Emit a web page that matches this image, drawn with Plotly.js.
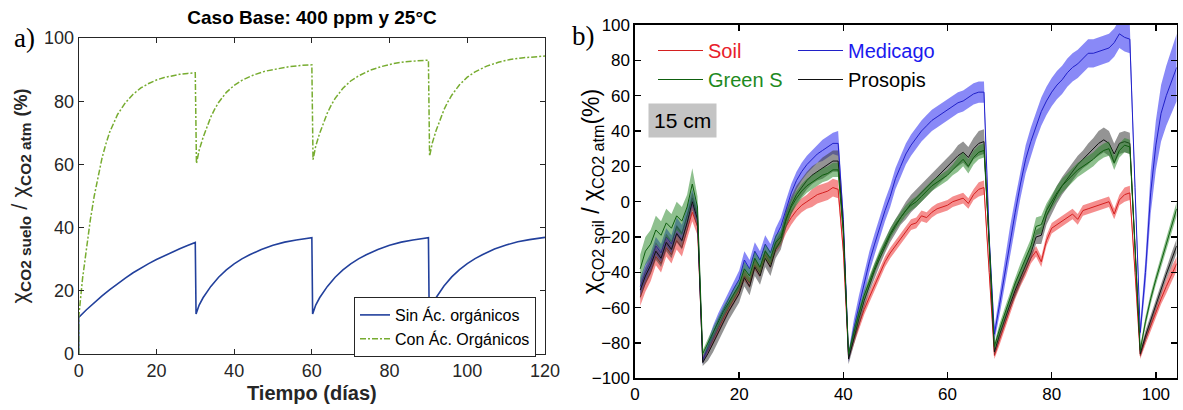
<!DOCTYPE html>
<html><head><meta charset="utf-8">
<script src="https://cdn.plot.ly/plotly-3.0.1.min.js"></script>
<style>html,body{margin:0;padding:0;background:#fff}#chart{width:1183px;height:410px}</style>
</head><body><div id="chart"></div><script>
// ---------- Panel a) model curves ----------
var sinT = [0,0,2,4,6,8,10,12,14,16,18,20,22,24,26,28,30,
  30.2,31,32,33,34,36,38,40,42,44,47,50,53,56,60,
  60.2,61,62,63,64,66,68,70,72,74,77,80,83,86,90,
  90.2,91,92,93,94,96,98,100,102,104,107,110,113,116,120];
var sinV = [0,11.6,14.0,16.3,18.4,20.4,22.3,24.0,25.7,27.2,28.6,29.9,31.1,32.2,33.3,34.3,35.3,
  12.7,15.5,17.8,19.7,21.4,24.3,26.6,28.5,30.1,31.4,33.1,34.4,35.4,36.1,36.8,
  12.7,15.5,17.8,19.7,21.4,24.3,26.6,28.5,30.1,31.4,33.1,34.4,35.4,36.1,36.8,
  12.8,15.6,17.9,19.8,21.5,24.4,26.7,28.6,30.2,31.5,33.2,34.5,35.5,36.2,36.9];
var conT = [0,0,1,2,3,4,5,6,7,8,10,12,14,16,18,20,22,24,26,28,30,
  30.3,31,32,33,34,35,36,38,40,42,45,48,51,54,57,60,
  60.3,61,62,63,64,65,66,68,70,72,75,78,81,84,87,90,
  90.3,91,92,93,94,95,96,98,100,102,105,108,111,114,117,120];
var conV = [0,11.6,24,34,42.5,50,56.5,62,66.5,70.3,75.8,79.5,82.2,84.2,85.6,86.7,87.5,88.1,88.5,88.8,89.0,
  60.3,64.5,68.5,72,75,77.5,79.6,82.8,85,86.6,88.3,89.5,90.3,90.9,91.3,91.5,
  61.5,65.8,69.8,73.3,76.3,78.8,80.9,84.1,86.4,88,89.8,91,91.9,92.5,92.8,93.0,
  62.6,66.8,70.8,74.3,77.3,79.8,81.9,85.2,87.6,89.3,91.1,92.3,93.2,93.7,94.1,94.3];
var namesA = ['Sin Ác. orgánicos','Con Ác. Orgánicos'];
var ticksA_x = [0,20,40,60,80,100,120];
var ticksA_y = [0,20,40,60,80,100];

// ---------- Panel b) measured series ----------
var days = [1,2,3,4,5,6,7,8,9,10,11,12,13,14,15,16,17,18,19,20,21,22,23,24,25,26,27,28,29,30,
  31,32,33,34,35,36,37,38,39,40,41,42,43,44,45,46,47,48,49,50,51,52,53,54,55,56,57,58,59,60,
  61,62,63,64,65,66,67,68,69,70,71,72,73,74,75,76,77,78,79,80,81,82,83,84,85,86,87,88,89,90,
  91,92,93,94,95,96,97,98,99,100,101,102,103,104];
var soil = [-54,-46,-40,-31,-35,-26,-30,-22,-26,-16,-6,-14,
  -89,-84,-78,-72,-66,-60,-55,-50,-42,-46,-36,-40,-30,-35,-26,-22,-14,-9,-5,-2,0,2,4,5,6,8,7,-28,
  -88,-78,-69,-61,-54,-47,-40,-34,-29,-25,-21,-17,-13,-12,-8,-9,-6,-4,-3,-2,0,1,2,-1,4,7,8,-40,
  -87,-78,-69,-60,-52,-45,-39,-32,-28,-34,-22,-15,-13,-11,-9,-7,-10,-5,-4,-3,-2,-1,0,-7,1,4,5,-40,
  -87,-78,-70,-62,-55,-48,-41,-35];
var soilErr = [5,5,5,5,5,5,5,5,5,5,5,5,
  2,2,3,3,3,3,3,3,3,3,3,3,3,3,3,3,4,4,4,4,4,5,5,5,5,5,5,3,
  2,3,3,3,3,3,3,3,3,3,3,3,3,3,3,3,3,3,3,3,3,3,3,3,3,4,4,3,
  2,3,3,3,3,3,3,3,3,3,3,3,3,3,3,3,3,3,3,3,3,3,3,3,3,4,4,3,
  2,3,3,3,3,4,4,4];
var medicago = [-48,-40,-34,-25,-29,-20,-24,-14,-18,-8,2,-8,
  -90,-82,-74,-67,-61,-55,-49,-44,-33,-38,-28,-33,-24,-29,-20,-14,-4,5,12,17,21,24,27,29,31,33,33,-10,
  -88,-72,-59,-47,-34,-24,-14,-5,3,13,20,27,32,36,40,43,46,48,50,52,54,56,57,59,61,62,62,-20,
  -75,-58,-40,-22,-6,10,24,34,43,51,57,62,66,69,73,76,78,81,84,84,85,86,87,90,95,93,92,8,
  -74,-40,5,32,50,60,68,76];
var medicagoErr = [5,5,5,5,5,5,5,5,5,5,5,5,
  2,3,4,4,4,4,4,5,5,5,5,5,5,5,5,5,5,5,5,5,5,5,5,6,6,6,7,4,
  3,5,6,6,6,6,6,6,6,6,6,6,6,6,6,6,6,6,6,6,6,6,6,6,6,6,6,4,
  4,6,7,8,8,8,8,8,8,8,8,8,8,8,8,8,8,8,8,8,8,8,8,8,8,8,8,5,
  4,8,12,14,16,17,18,19];
var greenS = [-38,-28,-24,-16,-19,-12,-15,-8,-11,-3,10,-3,
  -86,-80,-74,-68,-62,-57,-52,-47,-38,-42,-32,-37,-28,-32,-23,-20,-10,-3,2,6,9,11,13,15,16,18,18,-18,
  -86,-74,-63,-53,-45,-37,-30,-24,-18,-13,-9,-5,-2,0,3,6,9,11,13,15,18,21,24,20,25,28,29,-22,
  -82,-72,-63,-54,-46,-39,-32,-25,-14,-13,-5,0,5,9,12,15,18,20,22,24,27,29,30,22,29,32,31,-25,
  -84,-68,-55,-44,-34,-24,-14,-4];
var greenSErr = [8,8,8,8,8,8,8,8,8,7,9,6,
  2,3,3,3,3,3,3,3,4,4,4,4,4,4,4,4,4,4,4,4,4,4,4,4,4,4,4,3,
  2,3,3,3,3,3,3,3,3,3,3,3,3,3,3,3,3,3,3,3,3,4,4,4,4,4,4,3,
  2,3,3,3,3,4,4,4,5,5,4,4,4,4,4,4,4,4,4,4,4,4,4,4,4,4,4,3,
  2,3,3,3,3,3,4,4];
var prosopis = [-50,-42,-36,-28,-32,-23,-27,-18,-22,-12,0,-10,
  -91,-86,-80,-74,-68,-62,-57,-52,-43,-48,-37,-42,-32,-37,-27,-22,-10,-2,4,8,12,15,17,19,21,23,23,-15,
  -89,-77,-66,-56,-47,-39,-32,-25,-19,-14,-9,-5,-1,2,5,8,11,14,17,20,23,26,28,25,30,33,34,-22,
  -85,-75,-66,-58,-50,-43,-36,-29,-20,-19,-8,-2,4,9,13,17,21,24,27,30,33,35,33,27,33,34,33,-25,
  -86,-76,-67,-58,-49,-41,-33,-25];
var prosopisErr = [5,5,5,5,5,5,5,5,5,5,5,5,
  2,4,5,5,5,5,5,5,5,5,5,5,5,5,5,5,5,5,5,5,5,5,5,6,6,6,6,4,
  3,4,4,4,4,4,4,4,4,4,4,5,5,5,5,5,5,5,5,5,5,6,6,6,6,7,7,4,
  2,3,3,3,4,4,4,4,4,5,5,5,5,5,5,5,5,5,6,6,7,7,7,6,6,6,6,4,
  2,3,3,3,3,3,4,4];
var ticksB_x = [0,20,40,60,80,100];
var ticksB_y = [-100,-80,-60,-40,-20,0,20,40,60,80,100];

// ---------- build ----------
var W = 1183, H = 410;
function px(x){ return x / W; }
function py(y){ return 1 - y / H; }
var fL = 'Liberation Sans, Arial, sans-serif';

var problems = [];
[['soil',soil,soilErr],['medicago',medicago,medicagoErr],['greenS',greenS,greenSErr],['prosopis',prosopis,prosopisErr]].forEach(function(s){
  if (s[1].length !== days.length) problems.push(s[0]+' '+s[1].length);
  if (s[2].length !== days.length) problems.push(s[0]+'Err '+s[2].length);
});
if (sinT.length !== sinV.length) problems.push('sin '+sinT.length+'/'+sinV.length);
if (conT.length !== conV.length) problems.push('con '+conT.length+'/'+conV.length);

var traces = [
  {x: sinT, y: sinV, xaxis:'x', yaxis:'y', mode:'lines', name: namesA[0], legend:'legend',
   line:{color:'#22409c', width:1.6}},
  {x: conT, y: conV, xaxis:'x', yaxis:'y', mode:'lines', name: namesA[1], legend:'legend',
   line:{color:'#77ac30', width:1.5, dash:'6px,2px,2px,2px'}}
];

function addSeries(name, vals, errs, band, lineCol, legendId, labelCol){
  var lo = vals.map(function(v,i){ return v - errs[i]; });
  var hi = vals.map(function(v,i){ return v + errs[i]; });
  traces.push({x: days, y: lo, xaxis:'x2', yaxis:'y2', mode:'lines', line:{width:0, color:band},
    showlegend:false, hoverinfo:'skip'});
  traces.push({x: days, y: hi, xaxis:'x2', yaxis:'y2', mode:'lines', line:{width:0, color:band},
    fill:'tonexty', fillcolor: band, showlegend:false, hoverinfo:'skip'});
  traces.push({x: days, y: vals, xaxis:'x2', yaxis:'y2', mode:'lines', line:{width:1, color:lineCol},
    name:'<span style="color:'+labelCol+'">'+name+'</span>', legend: legendId, showlegend:true});
}
addSeries('Soil', soil, soilErr, 'rgba(235,30,30,0.5)', '#d42020', 'legend2', '#e8202a');
addSeries('Medicago', medicago, medicagoErr, 'rgba(40,40,240,0.55)', '#2020c8', 'legend3', '#1a1aee');
addSeries('Prosopis', prosopis, prosopisErr, 'rgba(60,60,60,0.55)', '#111111', 'legend3', '#000000');
addSeries('Green S', greenS, greenSErr, 'rgba(30,130,30,0.5)', '#0e5e0e', 'legend2', '#1e8a1e');

var axA = {ticks:'inside', ticklen:5, tickwidth:1, tickcolor:'#262626', showline:true, linecolor:'#262626',
  linewidth:1, mirror:'ticks', showgrid:false, zeroline:false, tickfont:{family:fL, size:18, color:'#262626'}};
var axB = {ticks:'inside', ticklen:6, tickwidth:1.5, tickcolor:'#000', showline:true, linecolor:'#000',
  linewidth:1.6, mirror:'ticks', showgrid:false, zeroline:false, tickfont:{family:fL, size:17, color:'#000'}};
function ext(a,b){ var o={}; for (var k in a) o[k]=a[k]; for (var k2 in b) o[k2]=b[k2]; return o; }

var layout = {
  width: W, height: H, margin:{l:0,r:0,t:0,b:0},
  paper_bgcolor:'#ffffff', plot_bgcolor:'#ffffff',
  title:{text:'<b>Caso Base: 400 ppm y 25°C</b>', x:px(312), xanchor:'center', y:py(17), yanchor:'middle',
    font:{family:fL, size:19, color:'#000'}},
  xaxis: ext(axA, {domain:[px(78.7), px(545)], range:[0,120], tickvals:ticksA_x, anchor:'y',
    title:{text:'<b>Tiempo (días)</b>', font:{family:fL, size:20, color:'#262626'}, standoff:6}}),
  yaxis: ext(axA, {domain:[py(354), py(38)], range:[0,100], tickvals:ticksA_y, anchor:'x',
    title:{text:'χ<sub><b>CO2 suelo</b></sub> / χ<sub><b>CO2 atm</b></sub> <span style="font-size:18px"><b>(%)</b></span>',
      font:{family:fL, size:22, color:'#262626'}, standoff:10}}),
  xaxis2: ext(axB, {domain:[px(635), px(1176.7)], range:[0,104], tickvals:ticksB_x, anchor:'y2'}),
  yaxis2: ext(axB, {domain:[py(378.4), py(25)], range:[-100,100], tickvals:ticksB_y, anchor:'x2'}),
  legend:{x:px(354), y:py(297), xanchor:'left', yanchor:'top', bgcolor:'#ffffff', bordercolor:'#262626',
    borderwidth:1, font:{family:fL, size:16, color:'#000'}, tracegroupgap:0, traceorder:'normal'},
  legend2:{x:px(653), y:py(31), xanchor:'left', yanchor:'top', bgcolor:'rgba(0,0,0,0)', borderwidth:0,
    font:{family:fL, size:20, color:'#000'}, tracegroupgap:0, traceorder:'normal', itemwidth:45},
  legend3:{x:px(793), y:py(31), xanchor:'left', yanchor:'top', bgcolor:'rgba(0,0,0,0)', borderwidth:0,
    font:{family:fL, size:20, color:'#000'}, tracegroupgap:0, traceorder:'normal', itemwidth:45},
  annotations:[
    {text:'a)', xref:'paper', yref:'paper', x:px(24), y:py(38), xanchor:'center', yanchor:'middle', showarrow:false,
      font:{family:'Liberation Serif, Times New Roman, serif', size:27, color:'#000'}},
    {text:'b)', xref:'paper', yref:'paper', x:px(583), y:py(36), xanchor:'center', yanchor:'middle', showarrow:false,
      font:{family:'Liberation Serif, Times New Roman, serif', size:27, color:'#000'}},
    {text:'χ<sub>CO2 soil</sub> / χ<sub>CO2 atm</sub>(%)', xref:'paper', yref:'paper', x:px(592), y:py(192),
      xanchor:'center', yanchor:'middle', textangle:-90, showarrow:false,
      font:{family:fL, size:23, color:'#000'}},
    {text:'15 cm', xref:'x2', yref:'y2', x:9.2, y:45.7, xanchor:'center', yanchor:'middle', showarrow:false,
      bgcolor:'#c4c4c4', borderpad:5, font:{family:fL, size:21, color:'#000'}}
  ]
};
if (problems.length) layout.annotations.push({text:'LEN ERR: '+problems.join(', '), xref:'paper', yref:'paper',
  x:0.5, y:0.5, showarrow:false, font:{size:20, color:'red'}});

Plotly.newPlot('chart', traces, layout, {staticPlot:true, displayModeBar:false});
</script></body></html>
